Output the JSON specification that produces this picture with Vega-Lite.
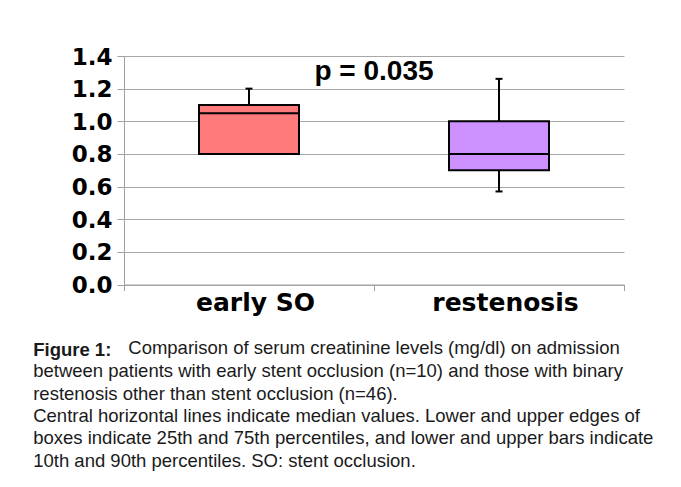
{
  "$schema": "https://vega.github.io/schema/vega-lite/v6.json",
  "width": 500,
  "height": 228.5,
  "autosize": {"type": "none"},
  "padding": {"left": 124, "top": 56, "right": 57, "bottom": 202.5},
  "background": "white",
  "title": {
    "text": "p = 0.035",
    "subtitle": "Comparison of serum creatinine levels (mg/dl) on admission",
    "font": "Liberation Sans",
    "fontSize": 28,
    "fontWeight": "bold",
    "color": "black",
    "subtitleFont": "Liberation Sans",
    "subtitleFontSize": 18.5,
    "subtitleFontWeight": "normal",
    "subtitleColor": "#1a1a1a",
    "subtitlePadding": 246,
    "anchor": "middle",
    "frame": "group",
    "baseline": "alphabetic",
    "offset": -333
  },
  "config": {
    "view": {"stroke": null},
    "axis": {
      "domainColor": "#a0a0a0",
      "tickColor": "#a0a0a0",
      "gridColor": "#a8a8a8",
      "labelColor": "black",
      "labelFont": "DejaVu Sans",
      "labelFontWeight": "bold",
      "titleColor": "#1a1a1a",
      "titleFont": "Liberation Sans",
      "titleFontSize": 18.5,
      "titleFontWeight": "normal"
    },
    "axisX": {
      "grid": false,
      "tickSize": 6,
      "tickBand": "extent",
      "labelAngle": 0,
      "labelFontSize": 25,
      "labelPadding": 19.5,
      "labelBaseline": "alphabetic",
      "labelOffset": 6,
      "titleAnchor": "start",
      "titleAlign": "left",
      "titleBaseline": "alphabetic",
      "titleX": -91.3,
      "titleY": 92.2,
      "titleLineHeight": 22.4
    },
    "axisY": {
      "grid": true,
      "tickSize": 7,
      "labelFontSize": 23,
      "labelPadding": 5,
      "labelOffset": 1,
      "labelOverlap": false,
      "titleAngle": 0,
      "titleAlign": "left",
      "titleBaseline": "alphabetic",
      "titleX": -91.3,
      "titleY": 299,
      "titleFontWeight": "bold"
    }
  },
  "data": {
    "values": [
      {"group": "early SO", "lower": 0.8, "q1": 0.8, "median": 1.05, "q3": 1.1, "upper": 1.2},
      {"group": "restenosis", "lower": 0.57, "q1": 0.7, "median": 0.8, "q3": 1.0, "upper": 1.26}
    ]
  },
  "encoding": {
    "x": {
      "field": "group",
      "type": "nominal",
      "sort": ["early SO", "restenosis"],
      "scale": {"paddingInner": 0, "paddingOuter": 0},
      "title": [
        "between patients with early stent occlusion (n=10) and those with binary",
        "restenosis other than stent occlusion (n=46).",
        "Central horizontal lines indicate median values. Lower and upper edges of",
        "boxes indicate 25th and 75th percentiles, and lower and upper bars indicate",
        "10th and 90th percentiles. SO: stent occlusion."
      ]
    }
  },
  "layer": [
    {
      "mark": {"type": "rule", "color": "black", "strokeWidth": 2, "opacity": 1},
      "encoding": {
        "y": {
          "field": "lower",
          "type": "quantitative",
          "scale": {"domain": [0, 1.4], "nice": false},
          "axis": {"values": [0, 0.2, 0.4, 0.6, 0.8, 1.0, 1.2, 1.4], "format": ".1f"},
          "title": "Figure 1:"
        },
        "y2": {"field": "q1"}
      }
    },
    {
      "mark": {"type": "rule", "color": "black", "strokeWidth": 2, "opacity": 1},
      "encoding": {
        "y": {
          "field": "q3",
          "type": "quantitative",
          "axis": {"values": [0, 0.2, 0.4, 0.6, 0.8, 1.0, 1.2, 1.4], "format": ".1f"},
          "title": "Figure 1:"
        },
        "y2": {"field": "upper"}
      }
    },
    {
      "mark": {"type": "tick", "color": "black", "thickness": 2, "size": 7, "opacity": 1},
      "encoding": {
        "y": {
          "field": "upper",
          "type": "quantitative",
          "axis": {"values": [0, 0.2, 0.4, 0.6, 0.8, 1.0, 1.2, 1.4], "format": ".1f"},
          "title": "Figure 1:"
        }
      }
    },
    {
      "mark": {"type": "tick", "color": "black", "thickness": 2, "size": 7, "opacity": 1},
      "encoding": {
        "y": {
          "field": "lower",
          "type": "quantitative",
          "axis": {"values": [0, 0.2, 0.4, 0.6, 0.8, 1.0, 1.2, 1.4], "format": ".1f"},
          "title": "Figure 1:"
        }
      }
    },
    {
      "mark": {"type": "bar", "stroke": "black", "strokeWidth": 2, "size": 100, "opacity": 1},
      "encoding": {
        "y": {
          "field": "q1",
          "type": "quantitative",
          "axis": {"values": [0, 0.2, 0.4, 0.6, 0.8, 1.0, 1.2, 1.4], "format": ".1f"},
          "title": "Figure 1:"
        },
        "y2": {"field": "q3"},
        "color": {
          "field": "group",
          "type": "nominal",
          "scale": {"domain": ["early SO", "restenosis"], "range": ["#FF7A7A", "#CC90FF"]},
          "legend": null
        }
      }
    },
    {
      "mark": {"type": "tick", "color": "black", "thickness": 2, "size": 100, "opacity": 1},
      "encoding": {
        "y": {
          "field": "median",
          "type": "quantitative",
          "axis": {"values": [0, 0.2, 0.4, 0.6, 0.8, 1.0, 1.2, 1.4], "format": ".1f"},
          "title": "Figure 1:"
        }
      }
    }
  ]
}
